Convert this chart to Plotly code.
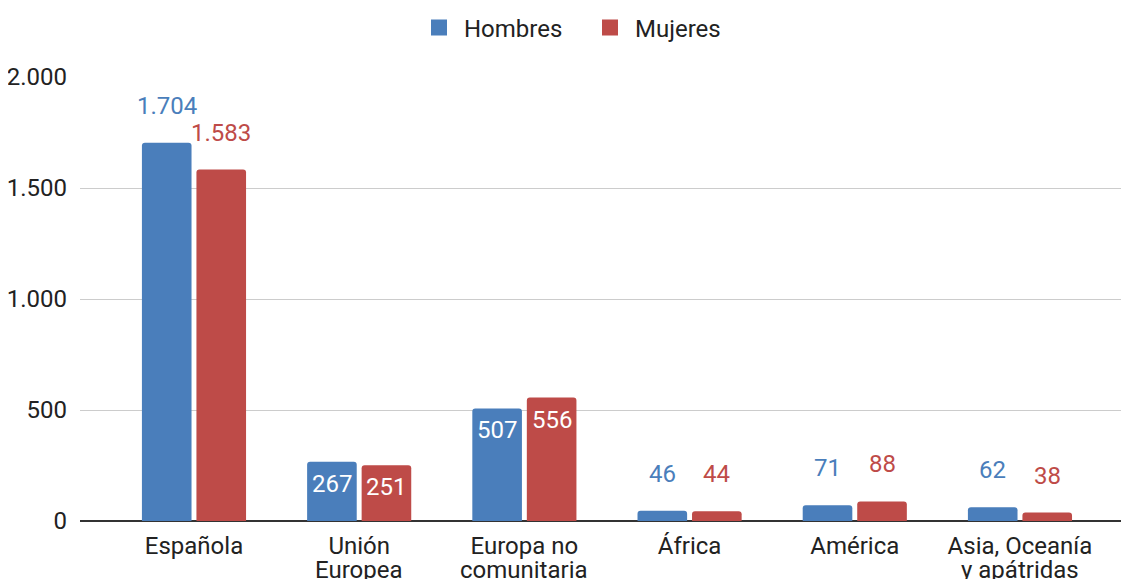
import plotly.graph_objects as go

categories_line1 = ["Española", "Unión", "Europa no", "África", "América", "Asia, Oceanía"]
categories_line2 = ["", "Europea", "comunitaria", "", "", "y apátridas"]
hombres = [1704, 267, 507, 46, 71, 62]
mujeres = [1583, 251, 556, 44, 88, 38]
y_tickvals = [0, 500, 1000, 1500, 2000]
y_ticktext = ["0", "500", "1.000", "1.500", "2.000"]

# label placement style (inside bar vs above bar)
inside_h = [False, True, True, False, False, False]
inside_m = [False, True, True, False, False, False]

BLUE = "#4A7EBB"
RED = "#BE4B48"
FONT = "Roboto"
FS = 24
TXT = "#222222"
BARGAP = 0.34
BARGROUPGAP = 0.09
W, H = 1121, 571  # page body has an 8px margin


def fmt(v):
    return f"{v:,}".replace(",", ".")


n = len(categories_line1)
fig = go.Figure()
fig.add_trace(go.Bar(name="Hombres", x=list(range(n)), y=hombres,
                     marker=dict(color=BLUE, line=dict(width=0)), showlegend=False))
fig.add_trace(go.Bar(name="Mujeres", x=list(range(n)), y=mujeres,
                     marker=dict(color=RED, line=dict(width=0)), showlegend=False))
# legend entries with larger square swatches
for name, color in [("Hombres", BLUE), ("Mujeres", RED)]:
    fig.add_trace(go.Scatter(name=name, x=[None], y=[None], mode="markers",
                             marker=dict(symbol="square", size=24, color=color),
                             showlegend=True, hoverinfo="skip"))

half_slot = (1 - BARGAP) / 4
annotations = []
for series, inside, color, off in [(hombres, inside_h, BLUE, -half_slot),
                                    (mujeres, inside_m, RED, half_slot)]:
    for i, v in enumerate(series):
        annotations.append(dict(
            x=i + off, y=v, xref="x", yref="y", text=fmt(v), showarrow=False,
            yanchor="middle", xanchor="center",
            yshift=-22 if inside[i] else 37,
            font=dict(family=FONT, size=FS, color="white" if inside[i] else color),
        ))
# second line of the category labels (tighter line spacing than Plotly's default)
for i, t in enumerate(categories_line2):
    if t:
        annotations.append(dict(
            x=i, y=0, xref="x", yref="y", text=t, showarrow=False,
            yanchor="middle", xanchor="center", yshift=-49,
            font=dict(family=FONT, size=FS, color=TXT),
        ))

fig.update_layout(
    width=W, height=H,
    margin=dict(l=72, r=0, t=69, b=58, autoexpand=False),
    paper_bgcolor="white", plot_bgcolor="white",
    barmode="group", bargap=BARGAP, bargroupgap=BARGROUPGAP,
    barcornerradius=3,
    font=dict(family=FONT, size=FS, color=TXT),
    legend=dict(orientation="h", x=577 / W, xanchor="center", xref="container",
                y=1 - 20 / H, yanchor="middle", yref="container",
                font=dict(family=FONT, size=FS, color=TXT),
                itemwidth=40, entrywidth=116, traceorder="normal"),
    annotations=annotations,
    showlegend=True,
)
fig.update_xaxes(
    tickmode="array", tickvals=list(range(n)), ticktext=categories_line1,
    range=[-0.69, 5.66], showgrid=False, showline=False, zeroline=False,
    ticks="", ticklabelstandoff=8, automargin=False,
    tickfont=dict(family=FONT, size=FS, color=TXT),
)
fig.update_yaxes(
    range=[0, 2000], tickvals=y_tickvals, ticktext=y_ticktext,
    showgrid=True, gridcolor="#CCCCCC", gridwidth=1,
    zeroline=True, zerolinecolor="#333333", zerolinewidth=1.5,
    showline=False, ticks="", ticklabelstandoff=12, automargin=False,
    tickfont=dict(family=FONT, size=FS, color=TXT),
)

fig.write_html("out.html")
